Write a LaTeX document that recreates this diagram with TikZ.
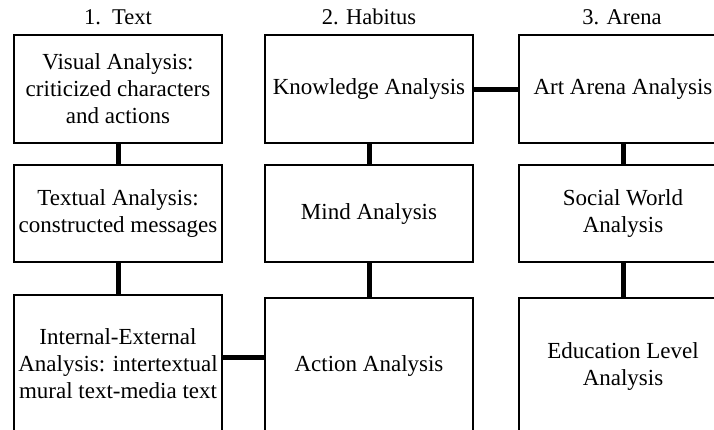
\documentclass[tikz,border=0pt]{standalone}
\usepackage{fontspec}
\setmainfont{Liberation Serif}
\begin{document}
\begin{tikzpicture}[x=1pt,y=-1pt,
  box/.style={draw,line width=1.3pt,align=center,inner sep=0pt,
    minimum width=208pt,font=\fontsize{23}{27}\selectfont},
  head/.style={font=\fontsize{22.5}{27}\selectfont},
  link/.style={line width=5pt}
  ]
  \useasboundingbox (0,0) rectangle (714,429);
  \clip (0,0) rectangle (714,429);

  % column headings
  \node[head](h_text) at (118,17) {1.\ \ Text};
  \node[head](h_habitus) at (369,17) {2. Habitus};
  \node[head](h_arena) at (622,17) {3. Arena};

  % text
  \node[box,minimum height=108pt](visual) at (118,89)
    {Visual Analysis:\\criticized characters\\and actions};
  \node[box,minimum height=97pt](textual) at (118,213.5)
    {Textual Analysis:\\constructed messages};
  \node[box,minimum height=138pt](internal) at (118,364)
    {Internal-External\\Analysis: intertextual\\mural text-media text};

  % habitus
  \node[box,minimum height=108pt](knowledge) at (369,89) {Knowledge Analysis};
  \node[box,minimum height=97pt](mind) at (369,213.5) {Mind Analysis};
  \node[box,minimum height=136pt](action) at (369,366) {Action Analysis};

  % arena
  \node[box,minimum height=108pt](art) at (623,89) {Art Arena Analysis};
  \node[box,minimum height=97pt](social) at (623,213.5) {Social World\\Analysis};
  \node[box,minimum height=136pt](education) at (623,366) {Education Level\\Analysis};

  \coordinate (joint) at (240,357);

  \draw[link] (visual) -- (textual);
  \draw[link] (textual) -- (internal);
  \draw[link] (knowledge) -- (mind);
  \draw[link] (mind) -- (action);
  \draw[link] (art) -- (social);
  \draw[link] (social) -- (education);
  \draw[link] (knowledge) -- (art);
  \draw[link] (internal.east |- joint) -- (action.west |- joint);
\end{tikzpicture}
\end{document}
